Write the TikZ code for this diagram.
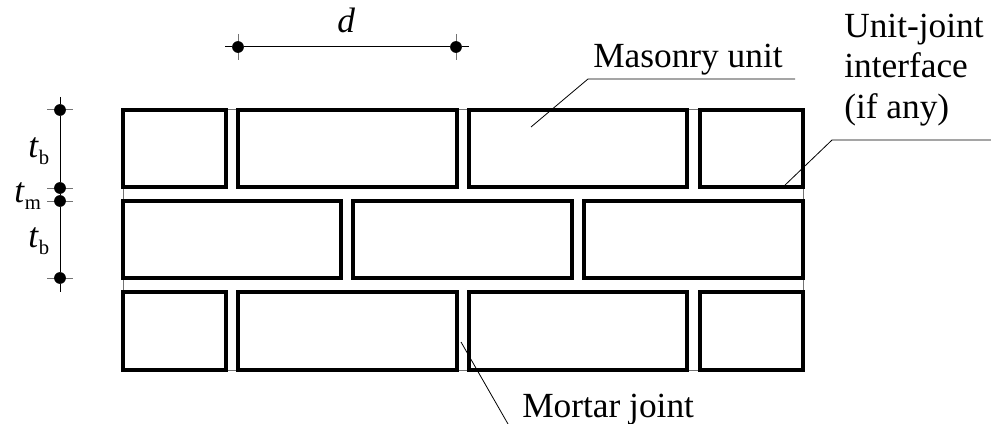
\documentclass[tikz,border=0pt]{standalone}
\usepackage{fontspec}
\setmainfont{Liberation Serif}
\tikzset{brick/.style={draw,line width=2.3pt,line join=miter}}
\tikzset{dot/.style={circle,fill,inner sep=0pt,minimum size=8.8pt}}
\tikzset{tick/.style={draw=black!55,line width=0.75pt}}
\tikzset{leader/.style={draw,line width=0.6pt}}
\tikzset{label/.style={inner sep=0pt,anchor=base west,font=\fontsize{26.5}{30}\selectfont}}
\newcommand{\thk}[1]{\textit{t}\raisebox{-0.2em}{\fontsize{15.5}{18}\selectfont #1}}

\begin{document}
\begin{tikzpicture}[x=0.75pt,y=-0.75pt]
    \useasboundingbox (0,0) rectangle (991,424);

    % wall outline, seen in the joints only
    \draw[tick] (123,110) rectangle (803,370);

    % course 1
    \draw[brick] (123,110) rectangle (226,187);
    \draw[brick] (238,110) rectangle (457,187);
    \draw[brick] (469,110) rectangle (687,187);
    \draw[brick] (700,110) rectangle (803,187);
    % course 2
    \draw[brick] (123,201) rectangle (341,278);
    \draw[brick] (353,201) rectangle (572,278);
    \draw[brick] (584,201) rectangle (803,278);
    % course 3
    \draw[brick] (123,292) rectangle (226,370);
    \draw[brick] (238,292) rectangle (457,370);
    \draw[brick] (469,292) rectangle (687,370);
    \draw[brick] (700,292) rectangle (803,370);

    % dimension d
    \draw[tick] (238,34) -- (238,60);
    \draw[tick] (456,34) -- (456,60);
    \node[dot] at (238,47) (d1) {};
    \node[dot] at (456,47) (d2) {};
    \coordinate (d1-end) at (225,47);
    \coordinate (d2-end) at (469,47);
    \draw[line width=0.75pt] (d1-end) -- (d1) -- (d2) -- (d2-end);
    \node[label] at (337,33) (d) {\textit{d}};

    % dimensions of the courses
    \draw[tick] (47,110) -- (73,110);
    \draw[tick] (47,188) -- (73,188);
    \draw[tick] (47,201) -- (73,201);
    \draw[tick] (47,278) -- (73,278);
    \node[dot] at (60,110) (t1) {};
    \node[dot] at (60,188) (t2) {};
    \node[dot] at (60,201) (t3) {};
    \node[dot] at (60,278) (t4) {};
    \coordinate (t1-end) at (60,97);
    \coordinate (t4-end) at (60,292);
    \draw[line width=0.75pt] (t1-end) -- (t1) -- (t2) -- (t3) -- (t4) -- (t4-end);
    \node[label] at (28,157) (tb1) {\thk{b}};
    \node[label] at (14,202) (tm) {\thk{m}};
    \node[label] at (28,247) (tb2) {\thk{b}};

    % labels and their leaders
    \node[label] at (593,68) (unit) {Masonry unit};
    \coordinate (unit-in) at (531,127);
    \coordinate (unit-knee) at (588,79);
    \coordinate (unit-end) at (795,79);
    \draw[leader] (unit-in) -- (unit-knee) -- (unit-end);

    \node[label] at (844,38) (iface1) {Unit-joint};
    \node[label] at (844,78) (iface2) {interface};
    \node[label] at (844,118) (iface3) {(if any)};
    \coordinate (iface-in) at (783,187);
    \coordinate (iface-knee) at (832,140);
    \coordinate (iface-end) at (991,140);
    \draw[leader] (iface-in) -- (iface-knee) -- (iface-end);

    \node[label] at (522,417) (mortar) {Mortar joint};
    \coordinate (mortar-in) at (461,342);
    \coordinate (mortar-end) at (508,424);
    \draw[leader] (mortar-in) -- (mortar-end);
\end{tikzpicture}
\end{document}
